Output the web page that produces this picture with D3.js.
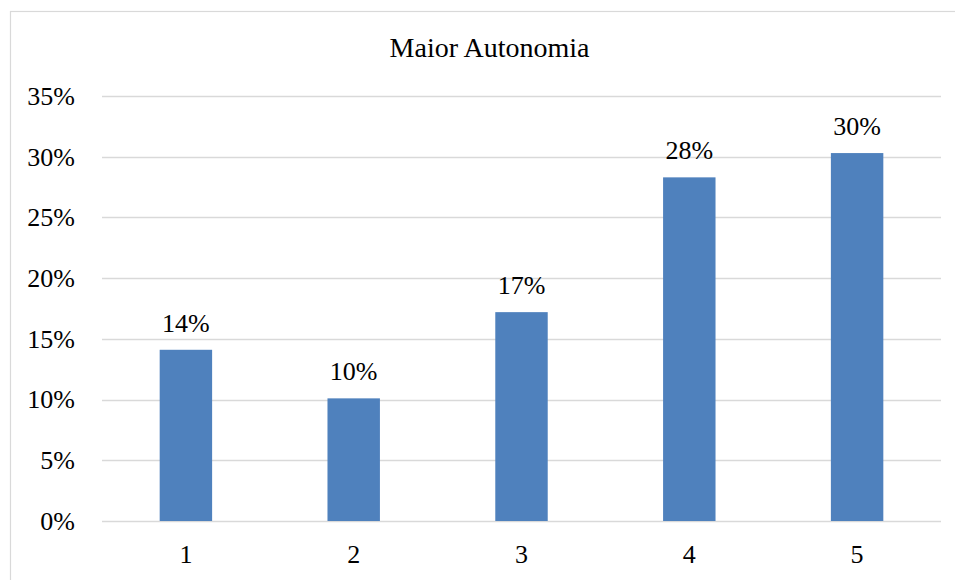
<!DOCTYPE html>
<html>
<head>
<meta charset="utf-8">
<script src="https://cdn.jsdelivr.net/npm/d3@7"></script>
<style>
  html, body { margin: 0; padding: 0; background: #fff; }
  svg { display: block; }
</style>
</head>
<body>
<svg id="chart" width="955" height="580"></svg>
<script>
// Share of answers per scale level
const categories = ["1", "2", "3", "4", "5"];
const values = [0.141, 0.101, 0.172, 0.283, 0.303];
const yTicks = [0, 0.05, 0.10, 0.15, 0.20, 0.25, 0.30, 0.35];
const title = "Maior Autonomia";

const FONT = '"Liberation Serif", "Times New Roman", Tinos, serif';
const svg = d3.select("#chart");
const W = 955, H = 580;
const plot = { left: 102, right: 941, top: 96, bottom: 521 };

// outer chart frame
svg.append("rect")
  .attr("x", 10.5).attr("y", 11.5)
  .attr("width", W + 20).attr("height", H + 20)
  .attr("fill", "#fff").attr("stroke", "#d9d9d9").attr("stroke-width", 1.2);

const x = d3.scaleBand()
  .domain(categories)
  .range([plot.left, plot.right])
  .paddingInner(0.6875)
  .paddingOuter(0.34375);

const y = d3.scaleLinear()
  .domain([0, 0.35])
  .range([plot.bottom, plot.top]);

const pct = d3.format(".0%");

// horizontal gridlines
svg.append("g")
  .selectAll("line")
  .data(yTicks)
  .join("line")
  .attr("x1", plot.left).attr("x2", plot.right)
  .attr("y1", d => Math.round(y(d)) + 0.5).attr("y2", d => Math.round(y(d)) + 0.5)
  .attr("stroke", "#d9d9d9").attr("stroke-width", 1.3);

// y axis labels
const yAxis = d3.axisLeft(y).tickValues(yTicks).tickFormat(pct).tickSize(0).tickPadding(27);
const gy = svg.append("g").attr("transform", `translate(${plot.left},0)`).call(yAxis);
gy.select(".domain").remove();
gy.attr("font-family", null).attr("font-size", null);
gy.selectAll("text")
  .style("font-family", FONT)
  .style("font-size", "26px").attr("fill", "#000");

// x axis labels
const xAxis = d3.axisBottom(x).tickSize(0).tickPadding(24);
const gx = svg.append("g").attr("transform", `translate(0,${plot.bottom})`).call(xAxis);
gx.select(".domain").remove();
gx.attr("font-family", null).attr("font-size", null);
gx.selectAll("text")
  .style("font-family", FONT)
  .style("font-size", "26px").attr("fill", "#000");

// bars
svg.append("g")
  .selectAll("rect")
  .data(values)
  .join("rect")
  .attr("x", (d, i) => x(categories[i]))
  .attr("y", d => y(d))
  .attr("width", x.bandwidth())
  .attr("height", d => y(0) - y(d))
  .attr("fill", "#4f81bd");

// value labels
svg.append("g")
  .selectAll("text")
  .data(values)
  .join("text")
  .attr("x", (d, i) => x(categories[i]) + x.bandwidth() / 2)
  .attr("y", d => y(d) - 18)
  .attr("text-anchor", "middle")
  .style("font-family", FONT)
  .style("font-size", "26px")
  .attr("fill", "#000")
  .text(d => pct(d));

// title
svg.append("text")
  .attr("x", 489.5)
  .attr("y", 57)
  .attr("text-anchor", "middle")
  .style("font-family", FONT)
  .style("font-size", "28px")
  .attr("fill", "#000")
  .text(title);
</script>
</body>
</html>
